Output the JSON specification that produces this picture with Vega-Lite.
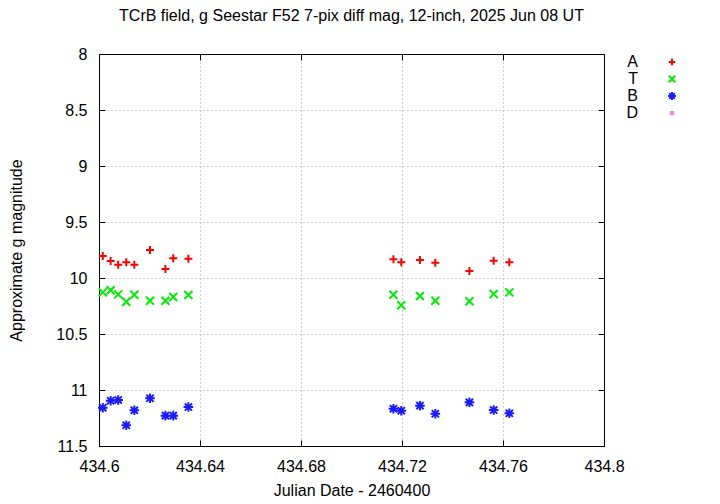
{
  "$schema": "https://vega.github.io/schema/vega-lite/v6.json",
  "width": 505,
  "height": 392,
  "autosize": {"type": "none"},
  "padding": {"left": 99, "top": 54, "right": 116, "bottom": 58},
  "background": "white",
  "title": {"text": "TCrB field, g Seestar F52 7-pix diff mag, 12-inch, 2025 Jun 08 UT", "font": "Liberation Sans", "fontSize": 16, "fontWeight": "normal", "color": "#000", "offset": 22},
  "config": {
    "view": {"stroke": "#000", "strokeWidth": 1},
    "font": "Liberation Sans"
  },
  "data": {"values": [
    {"jd": 434.6015, "mag": 9.804, "star": "A"},
    {"jd": 434.6046, "mag": 9.848, "star": "A"},
    {"jd": 434.6076, "mag": 9.881, "star": "A"},
    {"jd": 434.6108, "mag": 9.860, "star": "A"},
    {"jd": 434.6140, "mag": 9.881, "star": "A"},
    {"jd": 434.6202, "mag": 9.750, "star": "A"},
    {"jd": 434.6263, "mag": 9.920, "star": "A"},
    {"jd": 434.6294, "mag": 9.824, "star": "A"},
    {"jd": 434.6354, "mag": 9.828, "star": "A"},
    {"jd": 434.7166, "mag": 9.833, "star": "A"},
    {"jd": 434.7197, "mag": 9.860, "star": "A"},
    {"jd": 434.7271, "mag": 9.839, "star": "A"},
    {"jd": 434.7332, "mag": 9.863, "star": "A"},
    {"jd": 434.7467, "mag": 9.938, "star": "A"},
    {"jd": 434.7563, "mag": 9.846, "star": "A"},
    {"jd": 434.7625, "mag": 9.860, "star": "A"},
    {"jd": 434.6015, "mag": 10.128, "star": "T"},
    {"jd": 434.6046, "mag": 10.110, "star": "T"},
    {"jd": 434.6076, "mag": 10.146, "star": "T"},
    {"jd": 434.6108, "mag": 10.212, "star": "T"},
    {"jd": 434.6140, "mag": 10.149, "star": "T"},
    {"jd": 434.6202, "mag": 10.203, "star": "T"},
    {"jd": 434.6263, "mag": 10.203, "star": "T"},
    {"jd": 434.6294, "mag": 10.170, "star": "T"},
    {"jd": 434.6354, "mag": 10.152, "star": "T"},
    {"jd": 434.7166, "mag": 10.149, "star": "T"},
    {"jd": 434.7197, "mag": 10.244, "star": "T"},
    {"jd": 434.7271, "mag": 10.161, "star": "T"},
    {"jd": 434.7332, "mag": 10.203, "star": "T"},
    {"jd": 434.7467, "mag": 10.208, "star": "T"},
    {"jd": 434.7563, "mag": 10.143, "star": "T"},
    {"jd": 434.7625, "mag": 10.128, "star": "T"},
    {"jd": 434.6015, "mag": 11.158, "star": "B"},
    {"jd": 434.6046, "mag": 11.096, "star": "B"},
    {"jd": 434.6076, "mag": 11.089, "star": "B"},
    {"jd": 434.6108, "mag": 11.315, "star": "B"},
    {"jd": 434.6140, "mag": 11.181, "star": "B"},
    {"jd": 434.6202, "mag": 11.074, "star": "B"},
    {"jd": 434.6263, "mag": 11.229, "star": "B"},
    {"jd": 434.6294, "mag": 11.229, "star": "B"},
    {"jd": 434.6354, "mag": 11.152, "star": "B"},
    {"jd": 434.7166, "mag": 11.167, "star": "B"},
    {"jd": 434.7197, "mag": 11.185, "star": "B"},
    {"jd": 434.7271, "mag": 11.140, "star": "B"},
    {"jd": 434.7332, "mag": 11.212, "star": "B"},
    {"jd": 434.7467, "mag": 11.110, "star": "B"},
    {"jd": 434.7563, "mag": 11.179, "star": "B"},
    {"jd": 434.7625, "mag": 11.208, "star": "B"}
  ]},
  "resolve": {"axis": {"x": "independent", "y": "independent"}},
  "layer": [
    {
      "mark": {"type": "point", "filled": false, "size": 64, "opacity": 1},
      "encoding": {
        "x": {"field": "jd", "type": "quantitative",
              "scale": {"domain": [434.6, 434.8], "nice": false, "zero": false},
              "axis": {"title": "Julian Date - 2460400", "values": [434.6, 434.64, 434.68, 434.72, 434.76, 434.8],
                       "format": ".2~f", "labelFontSize": 16, "labelColor": "#000", "labelFont": "Liberation Sans",
                       "titleFontSize": 16, "titleFontWeight": "normal", "titleColor": "#000", "titlePadding": 8,
                       "tickSize": -6, "tickColor": "#000", "labelPadding": 18, "domainColor": "#000",
                       "grid": true, "gridDash": [1, 3], "gridColor": "#a0a0a0", "labelFlush": false}},
        "y": {"field": "mag", "type": "quantitative",
              "scale": {"domain": [11.5, 8], "nice": false, "zero": false},
              "axis": {"title": "Approximate g magnitude", "values": [8, 8.5, 9, 9.5, 10, 10.5, 11, 11.5],
                       "format": "~g",
                       "labelFontSize": 16, "labelColor": "#000", "labelFont": "Liberation Sans",
                       "titleFontSize": 16, "titleFontWeight": "normal", "titleColor": "#000", "titlePadding": 31,
                       "tickSize": -6, "tickColor": "#000", "labelPadding": 18, "domainColor": "#000",
                       "grid": true, "gridDash": [1, 3], "gridColor": "#a0a0a0", "labelFlush": false}},
        "color": {"field": "star", "type": "nominal",
                  "scale": {"domain": ["A", "T", "B", "D"], "range": ["#ff0000", "#00ee00", "#1a1aff", "#ee82ee"]},
                  "legend": {"title": null, "orient": "none", "legendX": 565, "legendY": 0,
                             "labelFontSize": 16, "labelColor": "#000", "labelFont": "Liberation Sans",
                             "labelAlign": "right", "labelOffset": -42, "symbolSize": 42, "symbolStrokeWidth": 1.6,
                             "rowPadding": 1, "labelLimit": 100}},
        "strokeWidth": {"field": "star", "type": "nominal",
                        "scale": {"domain": ["A", "T", "B", "D"], "range": [2, 2, 1.2, 2]},
                        "legend": null},
        "shape": {"field": "star", "type": "nominal",
                  "scale": {"domain": ["A", "T", "B", "D"],
                            "range": ["M-1,0L1,0M0,-1L0,1", "M-1,-1L1,1M-1,1L1,-1", "M-1.2,0L1.2,0M0,-1.2L0,1.2M-0.9,-0.9L0.9,0.9M-0.9,0.9L0.9,-0.9", "M-0.3,-0.3L0.3,-0.3L0.3,0.3L-0.3,0.3Z"]}}
      }
    },
    {
      "mark": {"type": "point", "opacity": 0},
      "encoding": {
        "x": {"field": "jd", "type": "quantitative",
              "axis": {"orient": "top", "title": null, "labels": false, "grid": false, "values": [434.6, 434.64, 434.68, 434.72, 434.76, 434.8],
                       "tickSize": -6, "tickColor": "#000", "domainColor": "#000"}},
        "y": {"field": "mag", "type": "quantitative",
              "axis": {"orient": "right", "title": null, "labels": false, "grid": false, "values": [8, 8.5, 9, 9.5, 10, 10.5, 11, 11.5],
                       "tickSize": -6, "tickColor": "#000", "domainColor": "#000"}}
      }
    }
  ]
}
